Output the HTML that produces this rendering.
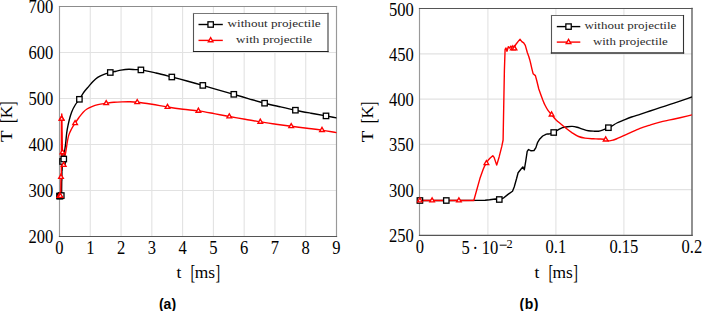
<!DOCTYPE html>
<html><head><meta charset="utf-8"><style>
html,body{margin:0;padding:0;background:#fff;width:702px;height:311px;overflow:hidden}
svg{display:block;font-family:"Liberation Serif",serif}
</style></head><body>
<svg width="702" height="311" viewBox="0 0 702 311" font-family="Liberation Serif">
<defs><clipPath id="ca"><rect x="59.5" y="6.5" width="277.0" height="230.0"/></clipPath><clipPath id="cb"><rect x="419.9" y="8.7" width="272.0" height="226.10000000000002"/></clipPath></defs>
<line x1="90.28" y1="6.5" x2="90.28" y2="236.5" stroke="#e2e2e2" stroke-width="1.1"/><line x1="121.06" y1="6.5" x2="121.06" y2="236.5" stroke="#e2e2e2" stroke-width="1.1"/><line x1="151.83" y1="6.5" x2="151.83" y2="236.5" stroke="#e2e2e2" stroke-width="1.1"/><line x1="182.61" y1="6.5" x2="182.61" y2="236.5" stroke="#e2e2e2" stroke-width="1.1"/><line x1="213.39" y1="6.5" x2="213.39" y2="236.5" stroke="#e2e2e2" stroke-width="1.1"/><line x1="244.17" y1="6.5" x2="244.17" y2="236.5" stroke="#e2e2e2" stroke-width="1.1"/><line x1="274.94" y1="6.5" x2="274.94" y2="236.5" stroke="#e2e2e2" stroke-width="1.1"/><line x1="305.72" y1="6.5" x2="305.72" y2="236.5" stroke="#e2e2e2" stroke-width="1.1"/><line x1="59.5" y1="190.50" x2="336.5" y2="190.50" stroke="#e2e2e2" stroke-width="1.1"/><line x1="59.5" y1="144.50" x2="336.5" y2="144.50" stroke="#e2e2e2" stroke-width="1.1"/><line x1="59.5" y1="98.50" x2="336.5" y2="98.50" stroke="#e2e2e2" stroke-width="1.1"/><line x1="59.5" y1="52.50" x2="336.5" y2="52.50" stroke="#e2e2e2" stroke-width="1.1"/>
<line x1="487.90" y1="8.7" x2="487.90" y2="234.8" stroke="#e2e2e2" stroke-width="1.1"/><line x1="555.90" y1="8.7" x2="555.90" y2="234.8" stroke="#e2e2e2" stroke-width="1.1"/><line x1="623.90" y1="8.7" x2="623.90" y2="234.8" stroke="#e2e2e2" stroke-width="1.1"/><line x1="419.9" y1="189.58" x2="691.9" y2="189.58" stroke="#e2e2e2" stroke-width="1.1"/><line x1="419.9" y1="144.36" x2="691.9" y2="144.36" stroke="#e2e2e2" stroke-width="1.1"/><line x1="419.9" y1="99.14" x2="691.9" y2="99.14" stroke="#e2e2e2" stroke-width="1.1"/><line x1="419.9" y1="53.92" x2="691.9" y2="53.92" stroke="#e2e2e2" stroke-width="1.1"/>
<line x1="59.5" y1="6.5" x2="59.5" y2="236.5" stroke="#9a9a9a" stroke-width="1.15" stroke-linecap="square"/>
<line x1="336.5" y1="6.5" x2="336.5" y2="236.5" stroke="#999" stroke-width="1.15" stroke-linecap="square"/>
<line x1="59.5" y1="6.5" x2="336.5" y2="6.5" stroke="#8c8c8c" stroke-width="1.15" stroke-linecap="square"/>
<line x1="59.5" y1="236.5" x2="336.5" y2="236.5" stroke="#555" stroke-width="1.2" stroke-linecap="square"/>
<line x1="419.5" y1="8.5" x2="419.5" y2="235.3" stroke="#999" stroke-width="1.15" stroke-linecap="square"/>
<line x1="692.0" y1="8.5" x2="692.0" y2="235.3" stroke="#555" stroke-width="1.3" stroke-linecap="square"/>
<line x1="419.5" y1="8.5" x2="692.0" y2="8.5" stroke="#555" stroke-width="1.2" stroke-linecap="square"/>
<line x1="419.5" y1="235.3" x2="692.0" y2="235.3" stroke="#555" stroke-width="1.2" stroke-linecap="square"/>
<g clip-path="url(#ca)"><path d="M59.50,196.05 L60.10,196.05 L60.86,196.00 L60.98,195.95 L61.08,195.70 L61.21,195.29 L61.30,195.55 L61.39,194.88 L61.49,193.05 L61.60,191.32 L61.63,189.19 L61.69,184.86 L61.72,181.91 L61.78,180.44 L61.83,178.96 L61.86,180.44 L61.90,175.51 L61.93,171.08 L61.96,170.11 L62.02,170.78 L62.08,170.62 L62.13,169.15 L62.16,166.66 L62.21,164.72 L62.28,163.25 L62.36,162.28 L62.44,162.18 L62.53,161.47 L62.64,159.99 L62.73,159.03 L62.84,158.52 L62.95,158.37 L63.06,158.77 L63.16,159.59 L63.31,160.55 L63.44,160.81 L63.54,160.81 L63.63,160.30 L63.77,159.03 L63.86,157.96 L63.96,156.64 L64.11,155.16 L64.29,153.58 L64.48,152.21 L64.71,150.53 L64.93,148.85 L65.16,147.18 L65.39,145.50 L65.66,143.41 C66.17,138.81 66.32,134.44 67.20,129.60 C68.20,124.10 69.89,116.76 71.60,112.20 C72.78,109.04 74.09,106.76 75.50,104.50 C76.72,102.54 78.09,101.21 79.40,99.30 C80.91,97.10 82.35,94.25 84.00,92.00 C85.56,89.87 87.42,87.94 89.00,86.10 C90.40,84.47 91.56,82.94 93.00,81.50 C94.46,80.04 95.93,78.58 97.70,77.40 C99.57,76.15 101.86,75.12 104.00,74.30 C106.06,73.50 108.25,73.03 110.30,72.50 C112.24,72.00 114.16,71.61 116.00,71.20 C117.72,70.81 119.13,70.40 121.00,70.10 C123.32,69.73 126.43,69.36 128.90,69.30 C131.06,69.24 132.98,69.50 135.00,69.60 C136.98,69.70 138.49,69.59 140.90,69.90 C144.79,70.39 150.92,71.84 156.00,73.00 C161.22,74.20 166.59,75.65 171.80,77.00 C176.92,78.32 181.89,79.62 187.00,81.00 C192.22,82.41 197.59,83.92 202.80,85.40 C207.92,86.85 212.88,88.33 218.00,89.80 C223.21,91.30 228.59,92.79 233.80,94.30 C238.92,95.79 243.90,97.32 249.00,98.80 C254.16,100.29 259.40,101.86 264.60,103.20 C269.73,104.52 274.86,105.63 280.00,106.80 C285.13,107.97 290.24,109.14 295.40,110.20 C300.58,111.27 305.85,112.24 311.00,113.20 C316.05,114.14 321.45,115.06 326.00,115.90 C329.81,116.61 333.00,117.23 336.50,117.90" fill="none" stroke="#000" stroke-width="1.4" stroke-linejoin="round" stroke-linecap="round"/><path d="M59.50,196.05 L60.72,196.05 L60.86,184.92 L60.93,180.34 L60.96,178.71 L61.00,177.08 L61.05,175.45 L61.09,174.44 L61.15,173.27 L61.18,174.13 L61.24,178.05 L61.29,173.78 L61.35,168.54 L61.38,165.28 L61.41,129.68 L61.43,119.15 L61.45,118.49 L61.47,120.12 L61.50,117.83 L61.53,118.49 L61.56,117.52 L61.60,118.74 L61.64,117.98 L61.67,116.56 L61.72,115.23 L61.77,114.06 L61.81,115.23 L61.85,115.89 L61.89,117.17 L61.93,120.78 L61.96,122.71 L61.98,124.19 L62.01,126.17 L62.03,129.07 L62.06,131.56 L62.11,132.53 L62.15,135.43 L62.19,139.34 L62.25,142.80 L62.28,144.84 L62.33,147.33 L62.40,150.18 L62.48,152.36 L62.58,155.06 L62.69,157.14 L62.80,159.18 L62.95,161.62 L63.09,163.50 L63.24,164.32 L63.42,164.67 L63.54,164.77 L63.70,165.03 L63.78,165.74 L63.88,165.28 L63.98,164.37 L64.11,163.10 L64.24,161.77 L64.37,160.50 L64.48,159.38 L64.71,157.70 L64.93,156.18 L65.16,155.06 L65.39,153.94 L65.66,152.52 C66.67,146.81 67.41,139.67 68.70,135.40 C69.52,132.69 70.43,131.04 71.50,129.00 C72.56,126.98 73.85,125.11 75.10,123.20 C76.35,121.28 77.64,119.34 79.00,117.50 C80.34,115.68 81.76,113.69 83.20,112.20 C84.44,110.93 85.59,109.92 87.00,109.00 C88.48,108.04 90.15,107.31 91.90,106.60 C93.80,105.83 95.79,105.13 98.00,104.60 C100.51,103.99 103.50,103.69 106.20,103.30 C108.83,102.92 111.38,102.53 114.00,102.30 C116.65,102.06 119.33,101.98 122.00,101.90 C124.67,101.82 127.40,101.74 130.00,101.80 C132.46,101.85 134.38,101.92 137.20,102.20 C141.26,102.60 147.02,103.51 152.00,104.30 C157.11,105.11 162.33,106.18 167.50,107.00 C172.66,107.82 177.84,108.55 183.00,109.20 C188.14,109.85 193.26,110.17 198.40,110.90 C203.59,111.64 208.83,112.66 214.00,113.60 C219.13,114.53 224.16,115.57 229.30,116.50 C234.50,117.44 239.80,118.29 245.00,119.20 C250.13,120.09 255.16,121.07 260.30,121.90 C265.49,122.74 270.81,123.46 276.00,124.20 C281.11,124.93 286.08,125.64 291.20,126.30 C296.41,126.97 301.80,127.56 307.00,128.20 C312.07,128.83 317.05,129.36 322.00,130.10 C326.88,130.83 331.67,131.77 336.50,132.60" fill="none" stroke="#f00" stroke-width="1.4" stroke-linejoin="round" stroke-linecap="round"/></g><rect x="56.80" y="193.35" width="5.4" height="5.4" fill="#fff" stroke="#000" stroke-width="1.3"/><rect x="57.40" y="193.35" width="5.4" height="5.4" fill="#fff" stroke="#000" stroke-width="1.3"/><rect x="58.60" y="192.85" width="5.4" height="5.4" fill="#fff" stroke="#000" stroke-width="1.3"/><rect x="59.83" y="158.77" width="5.4" height="5.4" fill="#fff" stroke="#000" stroke-width="1.3"/><rect x="61.07" y="156.33" width="5.4" height="5.4" fill="#fff" stroke="#000" stroke-width="1.3"/><rect x="76.70" y="96.60" width="5.4" height="5.4" fill="#fff" stroke="#000" stroke-width="1.3"/><rect x="107.60" y="69.80" width="5.4" height="5.4" fill="#fff" stroke="#000" stroke-width="1.3"/><rect x="138.20" y="67.20" width="5.4" height="5.4" fill="#fff" stroke="#000" stroke-width="1.3"/><rect x="169.10" y="74.30" width="5.4" height="5.4" fill="#fff" stroke="#000" stroke-width="1.3"/><rect x="200.10" y="82.70" width="5.4" height="5.4" fill="#fff" stroke="#000" stroke-width="1.3"/><rect x="231.10" y="91.60" width="5.4" height="5.4" fill="#fff" stroke="#000" stroke-width="1.3"/><rect x="261.90" y="100.50" width="5.4" height="5.4" fill="#fff" stroke="#000" stroke-width="1.3"/><rect x="292.70" y="107.50" width="5.4" height="5.4" fill="#fff" stroke="#000" stroke-width="1.3"/><rect x="323.30" y="113.20" width="5.4" height="5.4" fill="#fff" stroke="#000" stroke-width="1.3"/><path d="M59.50,193.35 L57.16,197.40 L61.84,197.40 Z" fill="#fff" stroke="#f00" stroke-width="1.35"/><path d="M59.78,193.35 L57.44,197.40 L62.11,197.40 Z" fill="#fff" stroke="#f00" stroke-width="1.35"/><path d="M60.38,193.35 L58.04,197.40 L62.72,197.40 Z" fill="#fff" stroke="#f00" stroke-width="1.35"/><path d="M61.00,174.38 L58.67,178.43 L63.34,178.43 Z" fill="#fff" stroke="#f00" stroke-width="1.35"/><path d="M61.60,116.04 L59.26,120.09 L63.94,120.09 Z" fill="#fff" stroke="#f00" stroke-width="1.35"/><path d="M61.64,116.04 L59.30,120.09 L63.98,120.09 Z" fill="#fff" stroke="#f00" stroke-width="1.35"/><path d="M62.48,149.66 L60.14,153.71 L64.82,153.71 Z" fill="#fff" stroke="#f00" stroke-width="1.35"/><path d="M63.70,162.38 L61.37,166.43 L66.04,166.43 Z" fill="#fff" stroke="#f00" stroke-width="1.35"/><path d="M75.10,120.50 L72.76,124.55 L77.44,124.55 Z" fill="#fff" stroke="#f00" stroke-width="1.35"/><path d="M106.20,100.60 L103.86,104.65 L108.54,104.65 Z" fill="#fff" stroke="#f00" stroke-width="1.35"/><path d="M137.20,99.50 L134.86,103.55 L139.54,103.55 Z" fill="#fff" stroke="#f00" stroke-width="1.35"/><path d="M167.50,104.30 L165.16,108.35 L169.84,108.35 Z" fill="#fff" stroke="#f00" stroke-width="1.35"/><path d="M198.40,108.20 L196.06,112.25 L200.74,112.25 Z" fill="#fff" stroke="#f00" stroke-width="1.35"/><path d="M229.30,113.80 L226.96,117.85 L231.64,117.85 Z" fill="#fff" stroke="#f00" stroke-width="1.35"/><path d="M260.30,119.20 L257.96,123.25 L262.64,123.25 Z" fill="#fff" stroke="#f00" stroke-width="1.35"/><path d="M291.20,123.60 L288.86,127.65 L293.54,127.65 Z" fill="#fff" stroke="#f00" stroke-width="1.35"/><path d="M322.00,127.40 L319.66,131.45 L324.34,131.45 Z" fill="#fff" stroke="#f00" stroke-width="1.35"/>
<g clip-path="url(#cb)"><path d="M419.90,200.50 L446.30,200.50 L480.00,200.40 L485.10,200.30 L489.60,199.80 L495.40,199.00 L499.30,199.50 L503.20,198.20 L507.70,194.60 L512.50,191.20 L514.20,187.00 L516.60,178.50 L518.10,172.70 L520.50,169.80 L522.80,166.90 L524.30,169.80 L525.90,160.10 L527.20,151.40 L528.60,149.50 L531.10,150.80 L534.00,150.50 L535.90,147.60 L537.50,142.70 L539.80,138.90 L542.70,136.00 L546.40,134.10 C547.50,134.03 548.56,134.13 549.70,133.90 C550.99,133.64 552.34,133.14 553.70,132.50 C555.26,131.76 556.95,130.43 558.50,129.60 C559.87,128.86 561.08,128.18 562.50,127.70 C564.00,127.20 565.68,126.92 567.30,126.70 C568.92,126.48 570.58,126.32 572.20,126.40 C573.81,126.48 575.42,126.81 577.00,127.20 C578.62,127.60 580.07,128.26 581.80,128.80 C583.80,129.42 586.17,130.30 588.30,130.70 C590.30,131.07 592.40,131.12 594.20,131.20 C595.72,131.26 597.02,131.37 598.40,131.20 C599.79,131.03 601.03,130.69 602.50,130.20 C604.31,129.60 606.63,128.53 608.40,127.70 C609.90,127.00 611.12,126.36 612.50,125.60 C613.95,124.80 615.24,123.84 616.90,123.00 C618.89,121.99 621.35,121.07 623.70,120.10 C626.20,119.07 628.83,117.95 631.50,117.00 C634.26,116.02 637.05,115.25 640.00,114.30 C643.20,113.26 646.67,112.10 650.00,111.00 C653.33,109.90 656.67,108.80 660.00,107.70 C663.33,106.60 666.67,105.50 670.00,104.40 C673.33,103.30 676.53,102.27 680.00,101.10 C683.80,99.82 687.93,98.37 691.90,97.00" fill="none" stroke="#000" stroke-width="1.4" stroke-linejoin="round" stroke-linecap="round"/><path d="M419.90,200.50 L473.80,200.50 L479.90,178.60 L483.10,169.60 L484.40,166.40 L486.40,163.20 L488.30,160.00 L490.20,158.00 L492.80,155.70 L494.10,157.40 L496.70,165.10 L499.20,156.70 L501.80,146.40 L503.10,140.00 L504.40,70.00 L505.10,49.30 L506.00,48.00 L507.00,51.20 L508.30,46.70 L509.60,48.00 L510.90,46.10 L512.50,48.50 L514.50,47.00 L516.00,44.20 L518.00,41.60 L520.10,39.30 L521.80,41.60 L523.70,42.90 L525.30,45.40 L527.30,52.50 L528.70,56.30 L529.60,59.20 L530.60,63.10 L531.90,68.80 L533.10,73.70 L535.40,75.60 L536.90,81.30 L538.80,89.00 L541.20,95.80 L542.70,99.80 C543.40,101.43 543.97,103.04 544.80,104.70 C545.71,106.53 546.82,108.60 548.00,110.30 C549.10,111.88 550.33,113.09 551.60,114.60 C553.01,116.28 554.51,118.30 556.10,119.90 C557.62,121.42 559.30,122.65 560.90,124.00 C562.50,125.35 563.96,126.63 565.70,128.00 C567.68,129.56 570.00,131.36 572.20,132.80 C574.30,134.18 576.40,135.61 578.60,136.50 C580.68,137.34 582.73,137.72 585.00,138.10 C587.53,138.52 590.68,138.65 593.10,138.80 C595.05,138.92 596.49,138.90 598.40,139.00 C600.64,139.12 603.77,139.04 605.70,139.50 C607.05,139.82 607.79,140.78 609.00,140.90 C610.36,141.04 612.02,140.44 613.50,140.00 C615.02,139.55 616.42,138.86 618.00,138.20 C619.79,137.45 621.81,136.55 623.70,135.70 C625.58,134.85 627.43,133.95 629.30,133.10 C631.16,132.25 633.07,131.40 634.90,130.60 C636.64,129.84 638.00,129.16 640.00,128.40 C642.76,127.35 646.66,126.15 650.00,125.10 C653.33,124.05 656.65,122.97 660.00,122.10 C663.32,121.24 666.67,120.63 670.00,119.90 C673.33,119.17 676.52,118.49 680.00,117.70 C683.80,116.84 687.93,115.83 691.90,114.90" fill="none" stroke="#f00" stroke-width="1.4" stroke-linejoin="round" stroke-linecap="round"/></g><rect x="417.20" y="197.80" width="5.4" height="5.4" fill="#fff" stroke="#000" stroke-width="1.3"/><rect x="443.60" y="197.80" width="5.4" height="5.4" fill="#fff" stroke="#000" stroke-width="1.3"/><rect x="496.60" y="196.80" width="5.4" height="5.4" fill="#fff" stroke="#000" stroke-width="1.3"/><rect x="551.00" y="129.80" width="5.4" height="5.4" fill="#fff" stroke="#000" stroke-width="1.3"/><rect x="605.70" y="125.00" width="5.4" height="5.4" fill="#fff" stroke="#000" stroke-width="1.3"/><path d="M419.90,197.80 L417.56,201.85 L422.24,201.85 Z" fill="#fff" stroke="#f00" stroke-width="1.35"/><path d="M432.10,197.80 L429.76,201.85 L434.44,201.85 Z" fill="#fff" stroke="#f00" stroke-width="1.35"/><path d="M458.90,197.80 L456.56,201.85 L461.24,201.85 Z" fill="#fff" stroke="#f00" stroke-width="1.35"/><path d="M486.40,160.50 L484.06,164.55 L488.74,164.55 Z" fill="#fff" stroke="#f00" stroke-width="1.35"/><path d="M512.80,45.80 L510.46,49.85 L515.14,49.85 Z" fill="#fff" stroke="#f00" stroke-width="1.35"/><path d="M514.50,45.80 L512.16,49.85 L516.84,49.85 Z" fill="#fff" stroke="#f00" stroke-width="1.35"/><path d="M551.60,111.90 L549.26,115.95 L553.94,115.95 Z" fill="#fff" stroke="#f00" stroke-width="1.35"/><path d="M605.70,136.90 L603.36,140.95 L608.04,140.95 Z" fill="#fff" stroke="#f00" stroke-width="1.35"/>
<rect x="193.5" y="13.5" width="134.50" height="38.00" fill="#fff"/><line x1="193.5" y1="13.5" x2="193.5" y2="51.5" stroke="#555" stroke-width="1.1" stroke-linecap="square"/><line x1="193.5" y1="13.5" x2="328.0" y2="13.5" stroke="#777" stroke-width="1.1" stroke-linecap="square"/><line x1="328.0" y1="13.5" x2="328.0" y2="51.5" stroke="#666" stroke-width="1.4" stroke-linecap="square"/><line x1="193.5" y1="51.5" x2="328.0" y2="51.5" stroke="#222" stroke-width="1.1" stroke-linecap="square"/><line x1="198.5" y1="24.5" x2="222.8" y2="24.5" stroke="#000" stroke-width="1.4"/><rect x="207.95" y="21.80" width="5.4" height="5.4" fill="#fff" stroke="#000" stroke-width="1.3"/><line x1="198.5" y1="40.4" x2="222.8" y2="40.4" stroke="#f00" stroke-width="1.4"/><path d="M210.65,37.70 L208.31,41.75 L212.99,41.75 Z" fill="#fff" stroke="#f00" stroke-width="1.35"/><text x="227.50" y="27.10" font-size="11.00" textLength="93.20" lengthAdjust="spacingAndGlyphs" fill="#2a2a2a">without projectile</text><text x="236.10" y="42.90" font-size="11.00" textLength="76.00" lengthAdjust="spacingAndGlyphs" fill="#2a2a2a">with projectile</text>
<rect x="551.5" y="15.5" width="132.00" height="37.50" fill="#fff"/><line x1="551.5" y1="15.5" x2="551.5" y2="53.0" stroke="#555" stroke-width="1.1" stroke-linecap="square"/><line x1="551.5" y1="15.5" x2="683.5" y2="15.5" stroke="#666" stroke-width="1.1" stroke-linecap="square"/><line x1="683.5" y1="15.5" x2="683.5" y2="53.0" stroke="#333" stroke-width="1.1" stroke-linecap="square"/><line x1="551.5" y1="53.0" x2="683.5" y2="53.0" stroke="#333" stroke-width="1.4" stroke-linecap="square"/><line x1="556.8" y1="26.6" x2="580.3" y2="26.6" stroke="#000" stroke-width="1.4"/><rect x="565.85" y="23.90" width="5.4" height="5.4" fill="#fff" stroke="#000" stroke-width="1.3"/><line x1="556.8" y1="42.1" x2="580.3" y2="42.1" stroke="#f00" stroke-width="1.4"/><path d="M568.55,39.40 L566.21,43.45 L570.89,43.45 Z" fill="#fff" stroke="#f00" stroke-width="1.35"/><text x="584.40" y="29.30" font-size="10.78" textLength="91.90" lengthAdjust="spacingAndGlyphs" fill="#2a2a2a">without projectile</text><text x="592.90" y="44.80" font-size="10.78" textLength="74.90" lengthAdjust="spacingAndGlyphs" fill="#2a2a2a">with projectile</text>
<text transform="translate(53.40,242.50) scale(0.93,1)" text-anchor="end" font-size="17.8">200</text><text transform="translate(53.40,196.50) scale(0.93,1)" text-anchor="end" font-size="17.8">300</text><text transform="translate(53.40,150.50) scale(0.93,1)" text-anchor="end" font-size="17.8">400</text><text transform="translate(53.40,104.50) scale(0.93,1)" text-anchor="end" font-size="17.8">500</text><text transform="translate(53.40,58.50) scale(0.93,1)" text-anchor="end" font-size="17.8">600</text><text transform="translate(53.40,12.50) scale(0.93,1)" text-anchor="end" font-size="17.8">700</text><text transform="translate(59.50,254.00) scale(0.93,1)" text-anchor="middle" font-size="17.8">0</text><text transform="translate(90.28,254.00) scale(0.93,1)" text-anchor="middle" font-size="17.8">1</text><text transform="translate(121.06,254.00) scale(0.93,1)" text-anchor="middle" font-size="17.8">2</text><text transform="translate(151.83,254.00) scale(0.93,1)" text-anchor="middle" font-size="17.8">3</text><text transform="translate(182.61,254.00) scale(0.93,1)" text-anchor="middle" font-size="17.8">4</text><text transform="translate(213.39,254.00) scale(0.93,1)" text-anchor="middle" font-size="17.8">5</text><text transform="translate(244.17,254.00) scale(0.93,1)" text-anchor="middle" font-size="17.8">6</text><text transform="translate(274.94,254.00) scale(0.93,1)" text-anchor="middle" font-size="17.8">7</text><text transform="translate(305.72,254.00) scale(0.93,1)" text-anchor="middle" font-size="17.8">8</text><text transform="translate(336.50,254.00) scale(0.93,1)" text-anchor="middle" font-size="17.8">9</text><text transform="translate(413.80,241.80) scale(0.93,1)" text-anchor="end" font-size="17.8">250</text><text transform="translate(413.80,196.58) scale(0.93,1)" text-anchor="end" font-size="17.8">300</text><text transform="translate(413.80,151.36) scale(0.93,1)" text-anchor="end" font-size="17.8">350</text><text transform="translate(413.80,106.14) scale(0.93,1)" text-anchor="end" font-size="17.8">400</text><text transform="translate(413.80,60.92) scale(0.93,1)" text-anchor="end" font-size="17.8">450</text><text transform="translate(413.80,15.70) scale(0.93,1)" text-anchor="end" font-size="17.8">500</text><text transform="translate(419.90,253.00) scale(0.93,1)" text-anchor="middle" font-size="17.8">0</text><text transform="translate(555.90,253.00) scale(0.93,1)" text-anchor="middle" font-size="17.8">0.1</text><text transform="translate(623.90,253.00) scale(0.93,1)" text-anchor="middle" font-size="17.8">0.15</text><text transform="translate(691.90,253.00) scale(0.93,1)" text-anchor="middle" font-size="17.8">0.2</text><text transform="translate(461.5,254.3) scale(0.93,1)" font-size="17.8">5<tspan dx="3">·</tspan><tspan dx="4">10</tspan></text><rect x="499.7" y="244.7" width="7.0" height="0.95" fill="#000"/><text x="506.6" y="248.0" font-size="12.3">2</text><g transform="translate(176.5,278.3)"><text x="0" y="0" font-size="17.5">t</text><text transform="translate(14.1,0.6) scale(0.8,1.2)" font-size="17.5">[</text><text x="18.2" y="0" font-size="17.5" textLength="20.3" lengthAdjust="spacingAndGlyphs">ms</text><text transform="translate(38.9,0.6) scale(0.8,1.2)" font-size="17.5">]</text></g><g transform="translate(534.4,278.3)"><text x="0" y="0" font-size="17.5">t</text><text transform="translate(14.1,0.6) scale(0.8,1.2)" font-size="17.5">[</text><text x="18.2" y="0" font-size="17.5" textLength="20.3" lengthAdjust="spacingAndGlyphs">ms</text><text transform="translate(38.9,0.6) scale(0.8,1.2)" font-size="17.5">]</text></g><g transform="translate(12.4,121.5) rotate(-90)"><text transform="translate(-20.4,0) scale(1.08,1)" font-size="17.5">T</text><text transform="translate(-1.5,1.3) scale(0.8,1.17)" font-size="17.5">[</text><text x="3.3" y="0" font-size="17.5">K</text><text transform="translate(15.6,1.3) scale(0.8,1.17)" font-size="17.5">]</text></g><g transform="translate(373.4,121.8) rotate(-90)"><text transform="translate(-20.4,0) scale(1.08,1)" font-size="17.5">T</text><text transform="translate(-1.5,1.3) scale(0.8,1.17)" font-size="17.5">[</text><text x="3.3" y="0" font-size="17.5">K</text><text transform="translate(15.6,1.3) scale(0.8,1.17)" font-size="17.5">]</text></g><text x="167.5" y="308.5" text-anchor="middle" font-family="Liberation Sans" font-weight="bold" font-size="14">(a)</text><text x="529.2" y="308.5" text-anchor="middle" font-family="Liberation Sans" font-weight="bold" font-size="14" letter-spacing="0.5">(b)</text>
</svg>
</body></html>
